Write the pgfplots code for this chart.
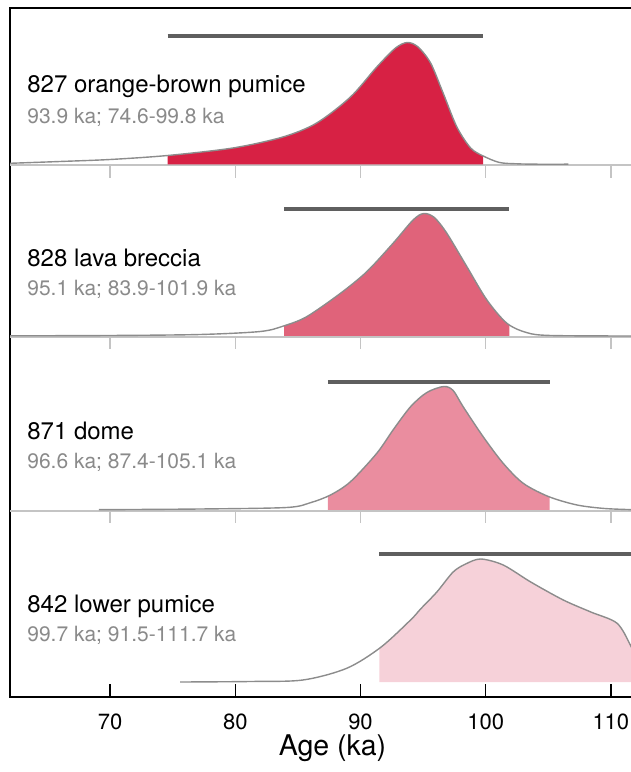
\documentclass[border=0pt]{standalone}
\usepackage{fontspec}
\setmainfont{TeX Gyre Heros}
\usepackage{pgfplots}
\usepackage{pgfplotstable}
\pgfplotsset{compat=1.18}

\definecolor{fillA}{HTML}{D72144}
\definecolor{fillB}{HTML}{E0637A}
\definecolor{fillC}{HTML}{EA8D9F}
\definecolor{fillD}{HTML}{F6D1D9}
\definecolor{curvec}{HTML}{8C8C8C}
\definecolor{barc}{HTML}{5F5F5F}
\definecolor{basegray}{HTML}{C4C4C4}
\definecolor{subgray}{HTML}{8A8A8A}

% density curves: age (ka) and height above each panel's baseline
\pgfplotstableread{
ka h
62.0 1.2
66.0 3
70.0 5
74.6 9
79.8 16.5
83.8 27.5
86.5 41.5
89.2 67.5
91.3 97.5
92.8 116.5
93.75 122
94.6 117.5
95.6 101.5
96.6 71.5
97.7 37.5
98.8 16.5
99.8 8.5
101.1 2
102.5 0.7
104.0 0.3
106.6 0.3
}\dA

\pgfplotstableread{
ka h
62.0 0.2
70.0 0.5
77.2 1.5
82.0 4.5
83.85 10
85.7 19.3
88.4 42.7
90.5 64.3
92.6 92.7
94.2 116
95.05 122.5
95.9 118.5
96.9 102.7
98.5 69.3
100.1 36
101.7 12.7
103.3 3.3
105.2 0.5
111.8 0
}\dB

\pgfplotstableread{
ka h
69.1 0.3
77.2 1
84.1 2.5
86.0 7.3
87.6 15
89.2 28.3
91.3 56.7
92.6 80
94.0 103.3
95.3 117.5
96.65 123.5
97.4 119.5
98.2 103.3
99.8 73.3
101.4 46.7
103.0 26.7
105.05 13.3
107.3 5
109.5 1.5
111.8 0.3
}\dC

\pgfplotstableread{
ka h
75.6 0
81.2 0.5
85.4 2
88.9 13.7
91.6 34.5
94.0 62
94.8 73
96.1 90
97.4 110
98.4 118
99.6 123
101.4 117
103.6 100
106.2 82
108.4 70
110.5 58.7
111.6 36
112.0 25
}\dD

\newcommand{\mainlab}{\fontsize{24bp}{27bp}\selectfont}
\newcommand{\sublab}{\fontsize{21bp}{24bp}\selectfont}

\begin{document}
\begin{tikzpicture}
\useasboundingbox (-10bp,-75bp) rectangle (621bp,697bp);
\begin{axis}[
  scale only axis, width=623bp, height=689bp,
  xmin=62, xmax=111.77, ymin=0, ymax=689,
  axis line style={line width=1.6bp, black},
  xtick={70,80,90,100,110}, ytick=\empty,
  xtick pos=lower,
  tick align=inside, major tick length=13bp,
  xtick style={line width=1.5bp, black},
  xticklabel style={font=\fontsize{22bp}{24bp}\selectfont, anchor=north, inner sep=0pt, yshift=-17bp},
  /pgf/number format/assume math mode=true,
]

% panel baselines and their ticks
\draw[basegray, line width=2bp] (axis cs:62,531.5) -- (axis cs:112,531.5);
\draw[basegray, line width=2bp] (axis cs:62,360) -- (axis cs:112,360);
\draw[basegray, line width=2bp] (axis cs:62,186) -- (axis cs:112,186);
\pgfplotsinvokeforeach{70,80,90,100,110}{
  \draw[basegray, line width=1.5bp] (axis cs:#1,531.5) -- (axis cs:#1,519);
  \draw[basegray, line width=1.5bp] (axis cs:#1,360) -- (axis cs:#1,347.5);
  \draw[basegray, line width=1.5bp] (axis cs:#1,186) -- (axis cs:#1,173.5);
}

% 827 orange-brown pumice: shaded between 74.6 and 99.8 ka
\begin{scope}
\clip (axis cs:74.6,400) rectangle (axis cs:99.8,689);
\addplot[fill=fillA, draw=none, smooth] table[x=ka, y expr=\thisrow{h}+532.5] {\dA}
  -- (axis cs:106.6,532.5) -- (axis cs:62,532.5) -- cycle;
\end{scope}
\addplot[curvec, line width=1.4bp, smooth] table[x=ka, y expr=\thisrow{h}+532.5] {\dA};
\addplot[barc, line width=4.7bp] coordinates {(74.6,661) (99.8,661)};

% 828 lava breccia: shaded between 83.9 and 101.9 ka
\begin{scope}
\clip (axis cs:83.9,300) rectangle (axis cs:101.9,520);
\addplot[fill=fillB, draw=none, smooth] table[x=ka, y expr=\thisrow{h}+361] {\dB}
  -- (axis cs:111.8,361) -- (axis cs:62,361) -- cycle;
\end{scope}
\addplot[curvec, line width=1.4bp, smooth] table[x=ka, y expr=\thisrow{h}+361] {\dB};
\addplot[barc, line width=4.7bp] coordinates {(83.9,488) (101.9,488)};

% 871 dome: shaded between 87.4 and 105.1 ka
\begin{scope}
\clip (axis cs:87.4,150) rectangle (axis cs:105.1,340);
\addplot[fill=fillC, draw=none, smooth] table[x=ka, y expr=\thisrow{h}+187] {\dC}
  -- (axis cs:111.8,187) -- (axis cs:69.1,187) -- cycle;
\end{scope}
\addplot[curvec, line width=1.4bp, smooth] table[x=ka, y expr=\thisrow{h}+187] {\dC};
\addplot[barc, line width=4.7bp] coordinates {(87.4,315) (105.1,315)};

% 842 lower pumice: shaded between 91.5 and 111.7 ka
\begin{scope}
\clip (axis cs:91.5,0) rectangle (axis cs:111.7,170);
\addplot[fill=fillD, draw=none, smooth] table[x=ka, y expr=\thisrow{h}+15] {\dD}
  -- (axis cs:112,15) -- (axis cs:75.6,15) -- cycle;
\end{scope}
\addplot[curvec, line width=1.4bp, smooth] table[x=ka, y expr=\thisrow{h}+15] {\dD};
\addplot[barc, line width=4.7bp] coordinates {(91.5,143) (111.7,143)};

% sample labels
\node[anchor=base west, inner sep=0pt, font=\mainlab] at (axis cs:63.37,604) {827 orange-brown pumice};
\node[anchor=base west, inner sep=0pt, font=\sublab, text=subgray] at (axis cs:63.37,573) {93.9 ka; 74.6-99.8 ka};
\node[anchor=base west, inner sep=0pt, font=\mainlab] at (axis cs:63.37,430) {828 lava breccia};
\node[anchor=base west, inner sep=0pt, font=\sublab, text=subgray] at (axis cs:63.37,401) {95.1 ka; 83.9-101.9 ka};
\node[anchor=base west, inner sep=0pt, font=\mainlab] at (axis cs:63.37,257.5) {871 dome};
\node[anchor=base west, inner sep=0pt, font=\sublab, text=subgray] at (axis cs:63.37,228.5) {96.6 ka; 87.4-105.1 ka};
\node[anchor=base west, inner sep=0pt, font=\mainlab] at (axis cs:63.37,85) {842 lower pumice};
\node[anchor=base west, inner sep=0pt, font=\sublab, text=subgray] at (axis cs:63.37,56) {99.7 ka; 91.5-111.7 ka};
\end{axis}
\node[font=\fontsize{28.5bp}{30bp}\selectfont] at (322.5bp,-51bp) {Age (ka)};
\end{tikzpicture}
\end{document}
